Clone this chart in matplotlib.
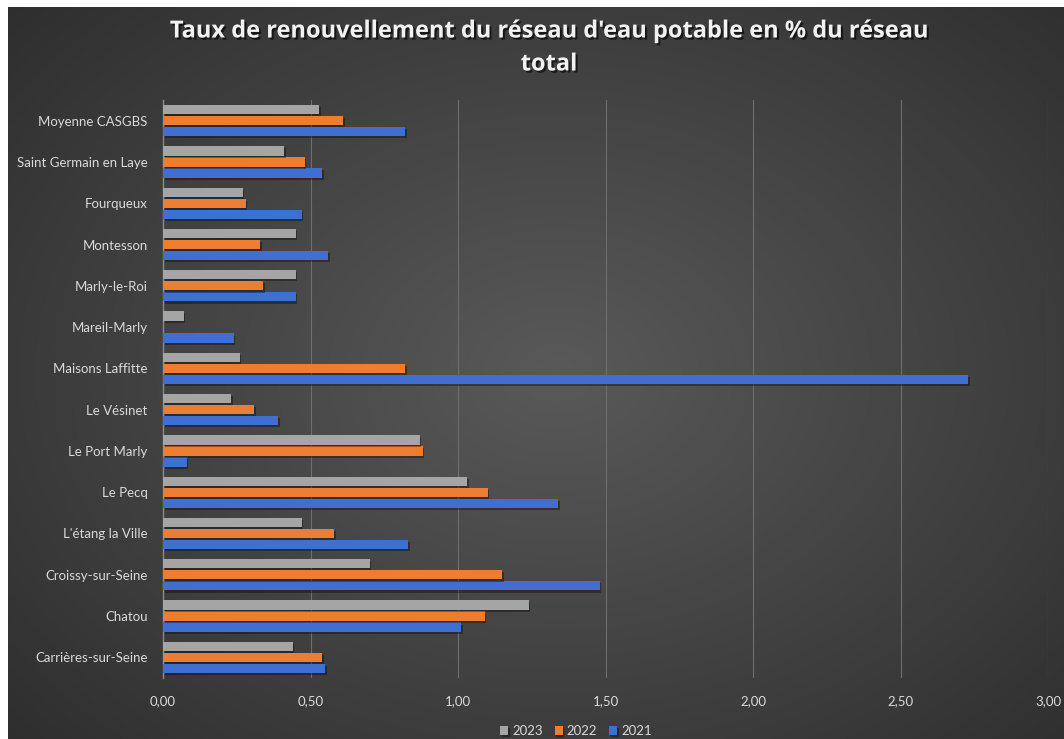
import numpy as np
import matplotlib
matplotlib.use("Agg")
import matplotlib.pyplot as plt
import matplotlib.patheffects as pe

# communes, from bottom to top as drawn
communes = ["Carrières-sur-Seine", "Chatou", "Croissy-sur-Seine", "L'étang la Ville",
            "Le Pecq", "Le Port Marly", "Le Vésinet", "Maisons Laffitte", "Mareil-Marly",
            "Marly-le-Roi", "Montesson", "Fourqueux", "Saint Germain en Laye", "Moyenne CASGBS"]
taux_2021 = [0.55, 1.01, 1.48, 0.83, 1.34, 0.08, 0.39, 2.73, 0.24, 0.45, 0.56, 0.47, 0.54, 0.82]
taux_2022 = [0.54, 1.09, 1.15, 0.58, 1.10, 0.88, 0.31, 0.82, 0.0, 0.34, 0.33, 0.28, 0.48, 0.61]
taux_2023 = [0.44, 1.24, 0.70, 0.47, 1.03, 0.87, 0.23, 0.26, 0.07, 0.45, 0.45, 0.27, 0.41, 0.53]
xticks = [0, 0.5, 1.0, 1.5, 2.0, 2.5, 3.0]

title = "Taux de renouvellement du réseau d'eau potable en % du réseau\ntotal"

fig = plt.figure(figsize=(10.64, 7.39), dpi=100)
fig.patch.set_facecolor("white")

# dark radial background like the Excel style
bg = fig.add_axes([8 / 1064, 0, 1 - 8 / 1064, 1 - 7 / 739], zorder=0)
yy, xx = np.mgrid[0:1:300j, 0:1:400j]
r = np.sqrt(((xx - 0.52) / 0.75) ** 2 + ((yy - 0.5) / 0.8) ** 2)
r = np.clip(r, 0, 1)
c = 0.35 - 0.18 * r
img = np.dstack([c, c, c])
bg.imshow(img, aspect="auto", extent=[0, 1, 0, 1], interpolation="bilinear")
bg.axis("off")

ax = fig.add_axes([163 / 1064, 61 / 739, 885 / 1064, 578 / 739], zorder=1)
ax.set_facecolor("none")

y = np.arange(len(communes))
h = 0.225
off = 0.268
shadow = [pe.SimplePatchShadow(offset=(1.2, -1.5), shadow_rgbFace="black", alpha=0.35), pe.Normal()]

b1 = ax.barh(y - off, taux_2021, height=h, color="#3f6fd1", label="2021", zorder=3)
b2 = ax.barh(y, taux_2022, height=h, color="#ed7d31", label="2022", zorder=3)
b3 = ax.barh(y + off, taux_2023, height=h, color="#a5a5a5", label="2023", zorder=3)
for bars in (b1, b2, b3):
    for p in bars:
        p.set_path_effects(shadow)

ax.set_xlim(0, 3)
ax.set_ylim(-0.5, len(communes) - 0.5)
ax.set_xticks(xticks)
ax.set_xticklabels([f"{v:.2f}".replace(".", ",") for v in xticks])
ax.set_yticks(y)
ax.set_yticklabels(communes)
ax.tick_params(axis="both", length=0, colors="#d9d9d9", labelsize=9.5)
ax.tick_params(axis="x", pad=12)
ax.tick_params(axis="y", pad=11)
for lab in ax.get_xticklabels() + ax.get_yticklabels():
    lab.set_fontfamily("Lato")

ax.grid(axis="x", color="#6e6e6e", linewidth=0.8, zorder=0)
for s in ["top", "right", "bottom"]:
    ax.spines[s].set_visible(False)
ax.spines["left"].set_color("#8a8a8a")
ax.spines["left"].set_linewidth(1.0)

fig.text(549 / 1064, 1 - 48 / 739, title, ha="center", va="center", fontsize=17,
         fontweight="bold", color="#f2f2f2", family="Open Sans", linespacing=1.5,
         path_effects=[pe.withSimplePatchShadow(offset=(1.5, -1.5), shadow_rgbFace="black", alpha=0.6)])

handles = [b3, b2, b1]
leg = fig.legend(handles, ["2023", "2022", "2021"], loc="center", bbox_to_anchor=(576 / 1064, 1 - 731 / 739),
                 ncol=3, frameon=False, fontsize=9.5, handlelength=0.6, handleheight=0.6,
                 handletextpad=0.3, columnspacing=0.9, prop={"family": "Lato", "size": 9.5})
for t in leg.get_texts():
    t.set_color("#d9d9d9")

fig.savefig("out.png", dpi=100)
